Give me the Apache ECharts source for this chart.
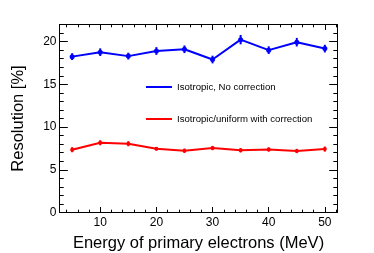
<!DOCTYPE html>
<html><head><meta charset="utf-8">
<script src="https://cdn.jsdelivr.net/npm/echarts@6/dist/echarts.min.js"></script>
<style>html,body{margin:0;padding:0;background:#fff}#c{width:374px;height:253px}</style>
</head><body><div id="c"></div>
<script>
const energies = [5, 10, 15, 20, 25, 30, 35, 40, 45, 50];
const noCorr = [18.24, 18.76, 18.3, 18.9, 19.1, 17.9, 20.23, 19.0, 19.93, 19.18];
const noCorrErr = [0.4, 0.45, 0.4, 0.45, 0.45, 0.45, 0.55, 0.45, 0.5, 0.45];
const withCorr = [7.35, 8.16, 8.05, 7.46, 7.23, 7.54, 7.28, 7.38, 7.2, 7.42];
const withCorrErr = [0.3, 0.3, 0.3, 0.2, 0.25, 0.25, 0.25, 0.25, 0.25, 0.3];
const name1 = 'Isotropic, No correction';
const name2 = 'Isotropic/uniform with correction';
const xTitle = 'Energy of primary electrons (MeV)';
const yTitle = 'Resolution [%]';

const FONT = 'Liberation Sans, Arial, sans-serif';
const X_MIN = 2.75, X_MAX = 52.25, Y_MIN = 0, Y_MAX = 22;

function pts(vals){ return energies.map((e,i)=>[e, vals[i]]); }
function errData(vals, errs){ return energies.map((e,i)=>[e, vals[i]-errs[i], vals[i]+errs[i]]); }
function errSeries(vals, errs, color){
  return {
    type:'custom', xAxisIndex:0, yAxisIndex:0, silent:true, z:3,
    data: errData(vals, errs),
    renderItem: function(params, api){
      const a = api.coord([api.value(0), api.value(1)]);
      const b = api.coord([api.value(0), api.value(2)]);
      return {type:'line', shape:{x1:a[0], y1:a[1], x2:b[0], y2:b[1]}, style:{stroke:color, lineWidth:2}};
    }
  };
}
function xAx(pos, split, len, labels){
  return {
    type:'value', position:pos, min:X_MIN, max:X_MAX, splitNumber:split,
    axisLine:{show:labels, onZero:false, lineStyle:{color:'#000', width:1}},
    axisTick:{show:true, inside:true, length:len, lineStyle:{color:'#000', width:1}},
    axisLabel:{show:labels, margin:4, fontSize:12, fontFamily:FONT, color:'#000',
      formatter: v => (Math.abs(v % 10) < 1e-6 ? String(v) : '')},
    splitLine:{show:false},
    name: labels ? xTitle : '', nameLocation:'middle', nameGap:22,
    nameTextStyle:{fontSize:16.5, fontFamily:FONT, color:'#000'}
  };
}
function yAx(pos, interval, len, labels){
  return {
    type:'value', position:pos, min:Y_MIN, max:Y_MAX, interval:interval,
    axisLine:{show:labels, onZero:false, lineStyle:{color:'#000', width:1}},
    axisTick:{show:true, inside:true, length:len, lineStyle:{color:'#000', width:1}},
    axisLabel:{show:labels, margin:3, fontSize:12, fontFamily:FONT, color:'#000',
      formatter: v => (Math.abs(v % 5) < 1e-6 ? String(v) : '')},
    splitLine:{show:false},
    name: labels ? yTitle : '', nameLocation:'middle', nameGap:33,
    nameTextStyle:{fontSize:16.5, fontFamily:FONT, color:'#000'}
  };
}

const chart = echarts.init(document.getElementById('c'), null, {renderer:'canvas'});
chart.setOption({
  animation:false,
  backgroundColor:'#fff',
  grid:{left:59.5, right:36.5, top:24.5, bottom:40.5, show:true, borderColor:'#000', borderWidth:1,
        containLabel:false, outerBoundsMode:'none'},
  legend:{
    data:[name1, name2], orient:'vertical', left:141, top:77, itemGap:22,
    icon:'rect', itemWidth:26, itemHeight:2,
    textStyle:{fontSize:9.6, fontFamily:FONT, color:'#000'}
  },
  xAxis:[
    xAx('bottom', 5, 5.5, true),
    xAx('bottom', 25, 2.8, false),
    xAx('top', 5, 5.5, false),
    xAx('top', 25, 2.8, false)
  ],
  yAxis:[
    yAx('left', 5, 8.3, true),
    yAx('left', 1, 4.2, false),
    yAx('right', 5, 8.3, false),
    yAx('right', 1, 4.2, false)
  ],
  series:[
    {name:name1, type:'line', xAxisIndex:0, yAxisIndex:0, data:pts(noCorr),
     symbol:'circle', symbolSize:5, lineStyle:{color:'#0000ff', width:2},
     itemStyle:{color:'#0000ff'}, z:4},
    {name:name2, type:'line', xAxisIndex:0, yAxisIndex:0, data:pts(withCorr),
     symbol:'circle', symbolSize:4, lineStyle:{color:'#ff0000', width:2},
     itemStyle:{color:'#ff0000'}, z:4},
    errSeries(noCorr, noCorrErr, '#0000ff'),
    errSeries(withCorr, withCorrErr, '#ff0000')
  ]
});
</script></body></html>
